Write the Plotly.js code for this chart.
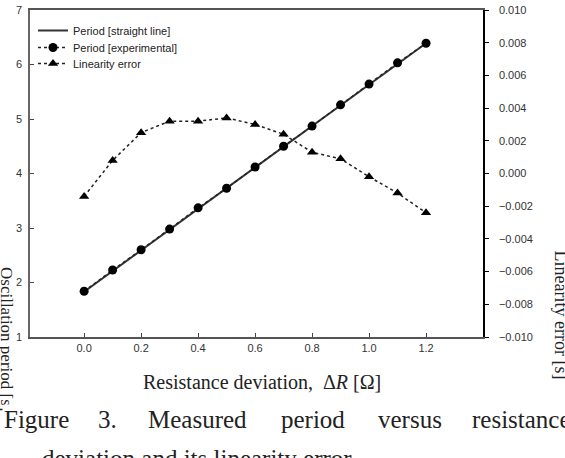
<!DOCTYPE html>
<html>
<head>
<meta charset="utf-8">
<script src="https://cdn.plot.ly/plotly-3.0.1.min.js"></script>
<style>html,body{margin:0;padding:0;background:#fff;}#chart{width:565px;height:458px;}</style>
</head>
<body>
<div id="chart"></div>
<script>
// ---- data ----
const deltaR = [0.0, 0.1, 0.2, 0.3, 0.4, 0.5, 0.6, 0.7, 0.8, 0.9, 1.0, 1.1, 1.2];
const periodExperimental = [1.84, 2.23, 2.60, 2.98, 3.37, 3.73, 4.12, 4.50, 4.87, 5.26, 5.64, 6.03, 6.39];
const lineX = [0.0, 1.2];
const periodStraightLine = [1.83, 6.39];
const linearityError = [-0.0014, 0.0008, 0.0025, 0.0032, 0.0032, 0.0034, 0.0030, 0.0024, 0.0013, 0.0009, -0.0002, -0.0012, -0.0024];
const xTicks = [0.0, 0.2, 0.4, 0.6, 0.8, 1.0, 1.2];
const yTicks = [1, 2, 3, 4, 5, 6, 7];
const y2Ticks = [-0.010, -0.008, -0.006, -0.004, -0.002, 0.000, 0.002, 0.004, 0.006, 0.008, 0.010];
const seriesNames = ['Period [straight line]', 'Period [experimental]', 'Linearity error'];
const xTitle = 'Resistance deviation,  Δ<i>R</i> [Ω]';
const leftTitle = 'Oscillation period [s]';
const rightTitle = 'Linearity error [s]';
const captionLine1 = ['Figure', '3.', 'Measured', 'period', 'versus', 'resistance'];
const captionLine2 = 'deviation and its linearity error.';

// ---- layout helpers (pixel -> paper) ----
const L = 30, R = 483, T = 10, B = 337;
const px = x => (x - L) / (R - L);
const py = y => (B - y) / (B - T);

const sans = 'Liberation Sans, Arial, sans-serif';
const serif = 'Liberation Serif, Times New Roman, serif';
const tickFont = {family: sans, size: 11, color: '#333'};

const traces = [
  {x: lineX, y: periodStraightLine, name: seriesNames[0], mode: 'lines',
   line: {color: '#333', width: 2}, yaxis: 'y', legend: 'legend'},
  {x: deltaR, y: periodExperimental, name: seriesNames[1], mode: 'lines+markers',
   line: {color: '#222', width: 1.3, dash: 'dot'},
   marker: {symbol: 'circle', size: 9, color: '#000'}, yaxis: 'y', legend: 'legend2'},
  {x: deltaR, y: linearityError, name: seriesNames[2], mode: 'lines+markers',
   line: {color: '#222', width: 1.5, dash: 'dot'},
   marker: {symbol: 'triangle-up', size: 9, color: '#000'}, yaxis: 'y2', legend: 'legend3'}
];

const capXs = [2, 96, 146, 279, 376, 470];
const annotations = [
  {text: leftTitle, xref: 'paper', yref: 'paper', x: px(7), y: py(265), xanchor: 'center', yanchor: 'top',
   textangle: 90, showarrow: false, font: {family: serif, size: 17, color: '#222'}},
  {text: rightTitle, xref: 'paper', yref: 'paper', x: px(561), y: py(248), xanchor: 'center', yanchor: 'top',
   textangle: 90, showarrow: false, font: {family: serif, size: 18, color: '#222'}},
  {text: xTitle, xref: 'paper', yref: 'paper', x: px(262), y: py(382), xanchor: 'center', yanchor: 'middle',
   showarrow: false, font: {family: serif, size: 20, color: '#222'}}
];
captionLine1.forEach((w, i) => {
  annotations.push({text: w, xref: 'paper', yref: 'paper', x: px(capXs[i]), y: py(419),
    xanchor: 'left', yanchor: 'middle', showarrow: false, bgcolor: i === 0 ? '#fff' : 'rgba(0,0,0,0)',
    font: {family: serif, size: 25, color: '#222'}});
});
annotations.push({text: captionLine2, xref: 'paper', yref: 'paper', x: px(40), y: py(458),
  xanchor: 'left', yanchor: 'middle', showarrow: false, font: {family: serif, size: 25, color: '#222'}});

const legendBase = tp => ({x: px(33), y: py(tp), xanchor: 'left', yanchor: 'top', bgcolor: 'rgba(0,0,0,0)',
  font: {family: sans, size: 11, color: '#222'}});

const layout = {
  width: 565, height: 458,
  margin: {l: L, r: 565 - R, t: T, b: 458 - B, pad: 0},
  paper_bgcolor: '#fff', plot_bgcolor: '#fff',
  showlegend: true,
  legend: legendBase(16),
  legend2: legendBase(33),
  legend3: legendBase(49),
  xaxis: {range: [-0.19, 1.4], tickvals: xTicks, tickformat: '.1f', ticks: 'inside', ticklen: 4,
    tickcolor: '#444', showline: true, linecolor: '#555', linewidth: 1.5, mirror: true,
    showgrid: false, zeroline: false, tickfont: tickFont},
  yaxis: {range: [1, 7], tickvals: yTicks, ticks: 'inside', ticklen: 4, tickcolor: '#444',
    showline: true, linecolor: '#666', linewidth: 1.5, showgrid: false, zeroline: false, tickfont: tickFont,
    ticklabelstandoff: 4},
  yaxis2: {range: [-0.010, 0.010], tickvals: y2Ticks, tickformat: '.3f', overlaying: 'y', side: 'right',
    ticks: 'outside', ticklen: 4, tickcolor: '#000', showline: true, linecolor: '#000', linewidth: 1.5,
    showgrid: false, zeroline: false, tickfont: tickFont, ticklabelstandoff: 8},
  annotations: annotations
};

Plotly.newPlot('chart', traces, layout, {displayModeBar: false, responsive: false});
</script>
</body>
</html>
